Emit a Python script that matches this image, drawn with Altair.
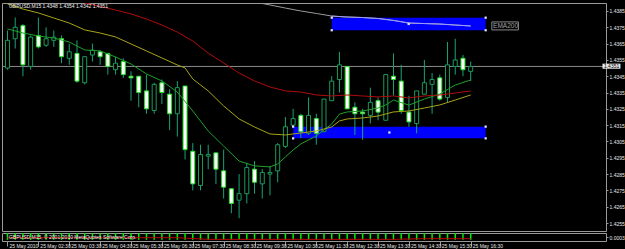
import altair as alt
import numpy as np
import pandas as pd

# ---------------- data ----------------
# 61 candles, GBPUSD M15, 25 May 2010 01:30 .. 16:30 (index 0..60)
opens = [1.4350, 1.4368, 1.4376, 1.4351, 1.4370, 1.4364, 1.4367, 1.4368, 1.4356, 1.4359,
         1.4341, 1.4358, 1.4360, 1.4359, 1.4349, 1.4354, 1.4345, 1.4345, 1.4336, 1.4324,
         1.4341, 1.4334, 1.4322, 1.4339, 1.4299, 1.4278, 1.4296, 1.4298, 1.4287, 1.4276,
         1.4269, 1.4273, 1.4288, 1.4279, 1.4285, 1.4287, 1.4302, 1.4315, 1.4321, 1.4310,
         1.4319, 1.4311, 1.4330, 1.4343, 1.4351, 1.4326, 1.4323, 1.4321, 1.4330, 1.4318,
         1.4345, 1.4342, 1.4323, 1.4316, 1.4334, 1.4340, 1.4344, 1.4332, 1.4351, 1.4356,
         1.4348]
highs = [1.4373, 1.4381, 1.4377, 1.4370, 1.4381, 1.4375, 1.4373, 1.4370, 1.4365, 1.4367,
         1.4357, 1.4365, 1.4361, 1.4359, 1.4357, 1.4356, 1.4348, 1.4345, 1.4346, 1.4341,
         1.4343, 1.4337, 1.4342, 1.4339, 1.4304, 1.4303, 1.4303, 1.4298, 1.4300, 1.4276,
         1.4285, 1.4292, 1.4293, 1.4288, 1.4290, 1.4304, 1.4320, 1.4325, 1.4322, 1.4332,
         1.4322, 1.4331, 1.4345, 1.4360, 1.4351, 1.4329, 1.4325, 1.4338, 1.4332, 1.4346,
         1.4359, 1.4352, 1.4333, 1.4336, 1.4355, 1.4347, 1.4346, 1.4366, 1.4368, 1.4358,
         1.4354]
lows = [1.4349, 1.4362, 1.4345, 1.4349, 1.4362, 1.4363, 1.4363, 1.4353, 1.4352, 1.4341,
        1.4340, 1.4354, 1.4352, 1.4346, 1.4346, 1.4344, 1.4330, 1.4326, 1.4322, 1.4322,
        1.4328, 1.4312, 1.4308, 1.4294, 1.4275, 1.4275, 1.4288, 1.4279, 1.4270, 1.4261,
        1.4258, 1.4267, 1.4273, 1.4270, 1.4272, 1.4280, 1.4301, 1.4314, 1.4307, 1.4309,
        1.4303, 1.4311, 1.4330, 1.4335, 1.4325, 1.4309, 1.4306, 1.4316, 1.4318, 1.4318,
        1.4333, 1.4322, 1.4314, 1.4310, 1.4334, 1.4322, 1.4330, 1.4329, 1.4346, 1.4345,
        1.4342]
closes = [1.4367, 1.4375, 1.4352, 1.4369, 1.4363, 1.4368, 1.4369, 1.4357, 1.4360, 1.4342,
          1.4357, 1.4361, 1.4357, 1.4351, 1.4353, 1.4346, 1.4344, 1.4335, 1.4325, 1.4340,
          1.4335, 1.4322, 1.4338, 1.4300, 1.4279, 1.4297, 1.4297, 1.4288, 1.4277, 1.4267,
          1.4273, 1.4289, 1.4280, 1.4286, 1.4286, 1.4303, 1.4314, 1.4319, 1.4311, 1.4321,
          1.4310, 1.4331, 1.4342, 1.4352, 1.4325, 1.4322, 1.4322, 1.4329, 1.4323, 1.4346,
          1.4343, 1.4324, 1.4317, 1.4336, 1.4341, 1.4343, 1.4331, 1.4352, 1.4355, 1.4349,
          1.4351]

# moving averages (candle index, price)
green_idx = [0, 2, 4, 6, 8, 9, 10, 12, 14, 16, 18, 20, 22, 24, 26, 28, 30, 32, 34, 35, 36, 37,
             38, 40, 42, 43, 44, 46, 48, 49, 50, 52, 54, 56, 58, 60]
green_val = [1.43740, 1.43715, 1.43697, 1.43684, 1.43660, 1.43635, 1.43611, 1.43605, 1.43568,
             1.43525, 1.43464, 1.43421, 1.43353, 1.43237, 1.43114, 1.43022, 1.42930, 1.42900,
             1.42894, 1.42912, 1.42955, 1.42998, 1.43035, 1.43084, 1.43157, 1.43218, 1.43231,
             1.43237, 1.43255, 1.43274, 1.43304, 1.43273, 1.43310, 1.43341, 1.43396, 1.43427]
yellow_idx = [0, 2, 4, 6, 8, 10, 12, 14, 16, 18, 20, 22, 23, 24, 26, 28, 30, 32, 34, 36, 38, 40,
              42, 43, 44, 46, 48, 50, 52, 54, 56, 58, 60]
yellow_val = [1.43893, 1.43862, 1.43838, 1.43807, 1.43776, 1.43734, 1.43715, 1.43691, 1.43648,
              1.43605, 1.43562, 1.43519, 1.43501, 1.43433, 1.43360, 1.43268, 1.43188, 1.43139,
              1.43096, 1.43090, 1.43102, 1.43114, 1.43139, 1.43176, 1.43188, 1.43194, 1.43206,
              1.43231, 1.43237, 1.43255, 1.43274, 1.43304, 1.43335]
red_idx = [10, 12, 14, 16, 18, 20, 22, 24, 26, 28, 30, 32, 34, 36, 38, 40, 42, 44, 46, 48, 50,
           52, 54, 56, 58, 60]
red_val = [1.43899, 1.43878, 1.43856, 1.43832, 1.43801, 1.43764, 1.43721, 1.43666, 1.43592,
           1.43531, 1.43470, 1.43421, 1.43384, 1.43360, 1.43353, 1.43335, 1.43329, 1.43335,
           1.43329, 1.43323, 1.43329, 1.43317, 1.43329, 1.43335, 1.43347, 1.43360]
ema200_idx = [30, 32, 33, 34, 36, 38, 40, 42, 44, 46, 48, 50, 52, 54, 56, 58, 60]
ema200_val = [1.43925, 1.43905, 1.43896, 1.43887, 1.43868, 1.43850, 1.43835, 1.43819, 1.43813,
              1.43810, 1.43804, 1.43792, 1.43776, 1.43773, 1.43770, 1.43764, 1.43758]

# rectangle objects (time index / price)
rect_x1 = [42, 37]
rect_x2 = [61.94, 61.94]
rect_top = [1.43809, 1.43141]
rect_bot = [1.43732, 1.43069]

# lower indicator window
osc_bar_top = [1.0] * 61
osc_line_idx = [0, 22, 26, 50, 54, 60]
osc_line_val = [0.41, 0.41, 0.21, 0.21, 0.29, 0.29]

price_ticks = [1.4385, 1.4375, 1.4365, 1.4355, 1.4345, 1.4335, 1.4325, 1.4315, 1.4305,
               1.4295, 1.4285, 1.4275, 1.4265, 1.4255]
tick_index = [0, 4, 8, 12, 16, 20, 24, 28, 32, 36, 40, 44, 48, 52, 56, 60]
tick_labels = ["25 May 2010", "25 May 02:30", "25 May 03:30", "25 May 04:30", "25 May 05:30",
               "25 May 06:30", "25 May 07:30", "25 May 08:30", "25 May 09:30", "25 May 10:30",
               "25 May 11:30", "25 May 12:30", "25 May 13:30", "25 May 14:30", "25 May 15:30",
               "25 May 16:30"]

title_text = "GBPUSD,M15  1.4348 1.4354 1.4342 1.4351"
bid_price = 1.4351
copyright_text = "GBPUSD,M15, © 2001-2010 MetaQuotes Software Corp."

# ---------------- styling ----------------
FONT = "Liberation Sans"
FRAME = "#9a9a9a"
TXT = "#e8e8e8"
WICK = "#17a37a"
BULL_EDGE = "#1b9a5a"
BEAR_EDGE = "#22e022"

W, H = 604, 228
xs = alt.Scale(domain=[-0.064, 76.88], nice=False, zero=False)
ys = alt.Scale(domain=[1.425011, 1.438990], nice=False, zero=False)

y_axis = alt.Axis(values=price_ticks, format=".4f", orient="right", title=None,
                  labelColor=TXT, labelFont=FONT, labelFontSize=5, tickColor=FRAME,
                  tickSize=2, labelPadding=1, domain=False, grid=False,
                  labelFlush=False, labelOverlap=False)

candles = pd.DataFrame({"i": np.arange(len(opens)), "open": opens, "high": highs,
                        "low": lows, "close": closes})
candles["dir"] = np.where(candles["close"] >= candles["open"], "bull", "bear")


def X(field):
    return alt.X(f"{field}:Q", scale=xs, axis=None)


def Y(field):
    return alt.Y(f"{field}:Q", scale=ys, axis=y_axis)


rects = pd.DataFrame({"x1": rect_x1, "x2": rect_x2, "top": rect_top, "bot": rect_bot})
rect_layer = alt.Chart(rects).mark_rect(color="#0000ff", clip=True).encode(
    x=X("x1"), x2="x2:Q", y=Y("top"), y2="bot:Q")

handles = pd.DataFrame({
    "hx": list(rects.x1) * 2 + list(rects.x2) * 2 + list((rects.x1 + rects.x2) / 2),
    "hy": list(rects.top) + list(rects.bot) + list(rects.top) + list(rects.bot)
          + list((rects.top + rects.bot) / 2),
})
handle_layer = alt.Chart(handles).mark_square(size=5, color="#e6e6ff", opacity=1).encode(
    x=X("hx"), y=Y("hy"))

bid_layer = alt.Chart(pd.DataFrame({"p": [bid_price]})).mark_rule(
    color="#8c8c8c", strokeWidth=1).encode(y=Y("p"))

wick_layer = alt.Chart(candles).mark_rule(color=WICK, strokeWidth=1, clip=True).encode(
    x=X("i"), y=Y("low"), y2="high:Q")

body_layer = alt.Chart(candles).mark_bar(size=4, strokeWidth=1, clip=True).encode(
    x=X("i"), y=Y("open"), y2="close:Q",
    fill=alt.Fill("dir:N", scale=alt.Scale(domain=["bull", "bear"],
                                           range=["#000000", "#ffffff"]), legend=None),
    stroke=alt.Stroke("dir:N", scale=alt.Scale(domain=["bull", "bear"],
                                               range=[BULL_EDGE, BEAR_EDGE]), legend=None),
)


def ma_line(idx, val, color):
    df = pd.DataFrame({"mi": idx, "mv": val})
    return alt.Chart(df).mark_line(color=color, strokeWidth=1, clip=True).encode(
        x=X("mi"), y=Y("mv"))


green_layer = ma_line(green_idx, green_val, "#1fa02a")
yellow_layer = ma_line(yellow_idx, yellow_val, "#a8a418")
red_layer = ma_line(red_idx, red_val, "#b00c0c")
e200_layer = ma_line(ema200_idx, ema200_val, "#9a9a9a")
e200_in = pd.DataFrame({"mi": ema200_idx, "mv": ema200_val})
e200_in = e200_in[e200_in.mi >= rect_x1[0]]
e200_blue = alt.Chart(e200_in).mark_line(color="#9c9cff", strokeWidth=1, clip=True).encode(
    x=X("mi"), y=Y("mv"))

label_box = alt.Chart(pd.DataFrame({"a": [62.74], "b": [66.18], "t": [1.43783],
                                    "u": [1.43734]})).mark_rect(
    fillOpacity=0, stroke="#8a8a8a", strokeWidth=1).encode(
    x=X("a"), x2="b:Q", y=Y("t"), y2="u:Q")
label_txt = alt.Chart(pd.DataFrame({"a": [62.9], "t": [1.43758], "s": ["EMA200"]})).mark_text(
    align="left", baseline="middle", font=FONT, fontSize=6.5, color="#a0a0a0").encode(
    x=X("a"), y=Y("t"), text="s:N")

title_layer = alt.Chart(pd.DataFrame({"a": [0.19], "t": [1.43878], "s": [title_text]})).mark_text(
    align="left", baseline="middle", font=FONT, fontSize=5, color="#f0f0f0").encode(
    x=X("a"), y=Y("t"), text="s:N")

pbox = alt.Chart(pd.DataFrame({"a": [77.07], "b": [79.4], "t": [1.43527],
                               "u": [1.43496]})).mark_rect(color="#e8e8e8").encode(
    x=X("a"), x2="b:Q", y=Y("t"), y2="u:Q")
ptxt = alt.Chart(pd.DataFrame({"a": [77.26], "t": [1.43511], "s": [f"{bid_price:.4f}"]})).mark_text(
    align="left", baseline="middle", font=FONT, fontSize=5, color="#000000").encode(
    x=X("a"), y=Y("t"), text="s:N")

top = alt.layer(rect_layer, bid_layer, wick_layer, body_layer, green_layer, yellow_layer,
                red_layer, e200_layer, e200_blue, handle_layer, label_box, label_txt,
                title_layer, pbox, ptxt).properties(width=W, height=H)

# ---------------- lower window ----------------
label_expr = "[" + ",".join(f"'{s}'" for s in tick_labels) + "][round(datum.value/4)]"
x_axis_b = alt.Axis(values=tick_index, labelExpr=label_expr, orient="bottom", title=None,
                    labelColor=TXT, labelFont=FONT, labelFontSize=5, tickColor=FRAME,
                    tickSize=5, labelAlign="left", labelBaseline="top", labelPadding=-2.5,
                    labelOffset=1.5, domain=False, grid=False, labelFlush=False,
                    labelOverlap=False)
yb = alt.Scale(domain=[0, 1], nice=False, zero=False)
yb_axis = alt.Axis(values=[0.5], labelExpr="'0.0003'", orient="right", title=None,
                   labelColor=TXT, labelFont=FONT, labelFontSize=5, tickColor=FRAME,
                   tickSize=2, labelPadding=1, domain=False, grid=False)

osc = pd.DataFrame({"i": np.arange(61), "base": 0.15, "top": osc_bar_top})
osc_bars = alt.Chart(osc).mark_bar(size=1.5, color="#00f000", clip=True).encode(
    x=alt.X("i:Q", scale=xs, axis=x_axis_b),
    y=alt.Y("base:Q", scale=yb, axis=yb_axis), y2="top:Q")
osc_line = alt.Chart(pd.DataFrame({"i": osc_line_idx, "v": osc_line_val})).mark_line(
    color="#c00000", strokeWidth=1, clip=True).encode(
    x=alt.X("i:Q", scale=xs, axis=x_axis_b),
    y=alt.Y("v:Q", scale=yb, axis=yb_axis))
osc_txt = alt.Chart(pd.DataFrame({"i": [0.19], "v": [0.45], "s": [copyright_text]})).mark_text(
    align="left", baseline="middle", font=FONT, fontSize=5, color="#f0f0f0").encode(
    x=alt.X("i:Q", scale=xs, axis=x_axis_b),
    y=alt.Y("v:Q", scale=yb, axis=yb_axis), text="s:N")

bottom = alt.layer(osc_bars, osc_line, osc_txt).properties(width=W, height=8)

chart = alt.vconcat(top, bottom, spacing=2, bounds="flush").properties(
    background="#000000",
    padding={"left": 1, "top": 2, "right": 0, "bottom": 0},
).configure_view(stroke=FRAME, strokeWidth=1)

chart.save("out.html", embed_options={"renderer": "svg", "actions": False})
